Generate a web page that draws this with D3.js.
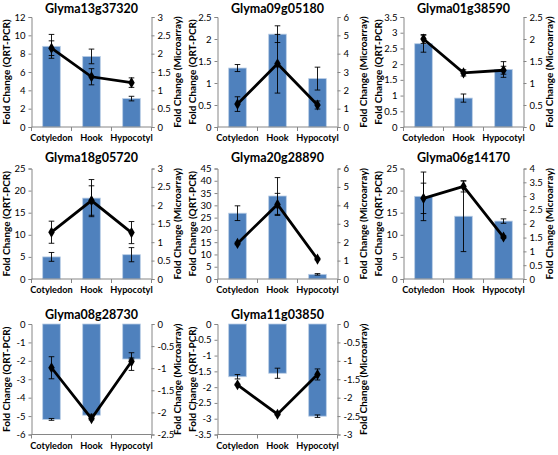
<!DOCTYPE html>
<html><head><meta charset="utf-8">
<script src="https://cdn.jsdelivr.net/npm/d3@7"></script>
<style>body{margin:0;background:#fff}svg{display:block}</style>
</head><body>
<svg id="c" width="558" height="455"></svg>
<script>
const categories = ["Cotyledon", "Hook", "Hypocotyl"];
const genes = ["Glyma13g37320","Glyma09g05180","Glyma01g38590","Glyma18g05720","Glyma20g28890","Glyma06g14170","Glyma08g28730","Glyma11g03850"];
const qpcrValues = [[8.8,7.7,3.1],[1.34,2.11,1.1],[2.65,0.92,1.83],[5.0,18.3,5.5],[26.8,33.8,1.9],[18.7,14.2,13.1],[-5.18,-4.95,-1.9],[-1.67,-1.56,-2.92]];
const qpcrErrors = [[1.3,0.8,0.25],[0.08,0.19,0.26],[0.27,0.13,0.25],[1.0,4.2,1.6],[3.0,7.5,0.3],[5.5,8.0,0.5],[0.05,0.05,0.05],[0.07,0.16,0.04]];
const arrayValues = [[2.15,1.37,1.21],[1.25,3.45,1.2],[2.0,1.23,1.29],[1.27,2.13,1.26],[1.93,4.05,1.08],[2.92,3.35,1.52],[-0.99,-2.14,-0.85],[-1.65,-2.45,-1.37]];
const arrayErrors = [[0.2,0.22,0.13],[0.4,1.6,0.22],[0.1,0.07,0.09],[0.3,0.4,0.3],[0.07,0.6,0.05],[0.55,0.2,0.05],[0.25,0.03,0.2],[0.02,0.02,0.15]];
const leftDomains = [[0,12],[0,2.5],[0,3.5],[0,25],[0,45],[0,25],[-6,0],[-3.5,0]];
const leftSteps = [2,0.5,0.5,5,5,5,1,0.5];
const rightDomains = [[0,3],[0,6],[0,2.5],[0,3],[0,6],[0,4],[-2.5,0],[-3,0]];
const rightSteps = [0.5,1,0.5,0.5,1,0.5,0.5,0.5];
const leftTitle = "Fold Change (QRT-PCR)";
const rightTitle = "Fold Change (Microarray)";

const svg = d3.select("#c");
const font = "Lato, 'Open Sans', sans-serif";
const rowTop = [17, 18.5, 24], rowBottom = [127, 129, 134.5], rowTitle = [12.5, 12, 19];
const axisColor = "#868686";
const fmt = v => String(+v.toFixed(2));

genes.forEach((gene, i) => {
  const col = i % 3, row = Math.floor(i / 3);
  const g = svg.append("g").attr("transform", `translate(${col*186},${row*150})`);
  const x0 = 31.5, x1 = 151.5, yT = rowTop[row], yB = rowBottom[row];
  const ld = leftDomains[i], rd = rightDomains[i];
  const yL = d3.scaleLinear().domain(ld).range([yB, yT]);
  const yR = d3.scaleLinear().domain(rd).range([yB, yT]);
  const x = d3.scaleBand().domain(categories).range([x0, x1]).paddingInner(0.56).paddingOuter(0.28);
  const xc = d => x(d) + x.bandwidth()/2;
  const baseL = yL(0);

  g.append("text").attr("x", (x0+x1)/2).attr("y", rowTitle[row]).attr("text-anchor","middle")
    .attr("font-family", font).attr("font-weight","bold").attr("font-size","12.5px").attr("fill","#000").text(gene);

  g.selectAll("rect.bar").data(categories).join("rect").attr("class","bar")
    .attr("x", d => x(d)).attr("width", x.bandwidth())
    .attr("y", (d,k) => Math.min(baseL, yL(qpcrValues[i][k])))
    .attr("height", (d,k) => Math.abs(yL(qpcrValues[i][k]) - baseL))
    .attr("fill", "#4F81BD").attr("stroke","#B9CDE5").attr("stroke-width",0.8);

  const drawErr = (scale, vals, errs) => {
    categories.forEach((c, k) => {
      const cx = xc(c), lo = scale(vals[k]-errs[k]), hi = scale(vals[k]+errs[k]);
      g.append("line").attr("x1",cx).attr("x2",cx).attr("y1",lo).attr("y2",hi).attr("stroke","#000").attr("stroke-width",0.9);
      [lo,hi].forEach(yy => g.append("line").attr("x1",cx-2.8).attr("x2",cx+2.8).attr("y1",yy).attr("y2",yy).attr("stroke","#000").attr("stroke-width",0.9));
    });
  };
  drawErr(yL, qpcrValues[i], qpcrErrors[i]);

  const line = d3.line().x((v,k) => xc(categories[k])).y(v => yR(v));
  g.append("path").attr("d", line(arrayValues[i])).attr("fill","none").attr("stroke","#000").attr("stroke-width",2.8);
  drawErr(yR, arrayValues[i], arrayErrors[i]);
  const sym = d3.symbol().type(d3.symbolDiamond).size(36);
  g.selectAll("path.pt").data(arrayValues[i]).join("path").attr("class","pt")
    .attr("transform",(v,k)=>`translate(${xc(categories[k])},${yR(v)})`).attr("d", sym()).attr("fill","#000");

  const lt = d3.range(ld[0], ld[1] + leftSteps[i]/2, leftSteps[i]);
  const ax = g.append("g").attr("transform",`translate(${x0},0)`).call(d3.axisLeft(yL).tickValues(lt).tickFormat(fmt).tickSize(3).tickPadding(3));
  const rt = d3.range(rd[0], rd[1] + rightSteps[i]/2, rightSteps[i]);
  const ax2 = g.append("g").attr("transform",`translate(${x1},0)`).call(d3.axisRight(yR).tickValues(rt).tickFormat(fmt).tickSize(3).tickPadding(3));
  const ax3 = g.append("g").attr("transform",`translate(0,${yB})`);
  ax3.append("line").attr("x1",x0).attr("x2",x1).attr("stroke",axisColor);
  const bounds = [x0, x0+(x1-x0)/3, x0+2*(x1-x0)/3, x1];
  bounds.forEach(b => ax3.append("line").attr("x1",b).attr("x2",b).attr("y1",0).attr("y2",4).attr("stroke",axisColor));
  ax3.selectAll("text").data(categories).join("text").attr("x", d => xc(d)).attr("y", 14)
    .attr("text-anchor","middle").attr("font-family",font).attr("font-weight","bold").attr("font-size","9.2px").text(d=>d);

  [ax, ax2].forEach(a => {
    a.select(".domain").attr("stroke",axisColor);
    a.selectAll(".tick line").attr("stroke",axisColor);
    a.selectAll("text").attr("font-family",font).attr("font-size","9.5px").attr("fill","#000");
  });

  const ym = (yT+yB)/2;
  g.append("text").attr("transform",`translate(9.5,${ym}) rotate(-90)`).attr("text-anchor","middle")
    .attr("font-family",font).attr("font-weight","bold").attr("font-size","10px").text(leftTitle);
  g.append("text").attr("transform",`translate(181,${ym}) rotate(-90)`).attr("text-anchor","middle")
    .attr("font-family",font).attr("font-weight","bold").attr("font-size","10px").text(rightTitle);
});
</script>
</body></html>
